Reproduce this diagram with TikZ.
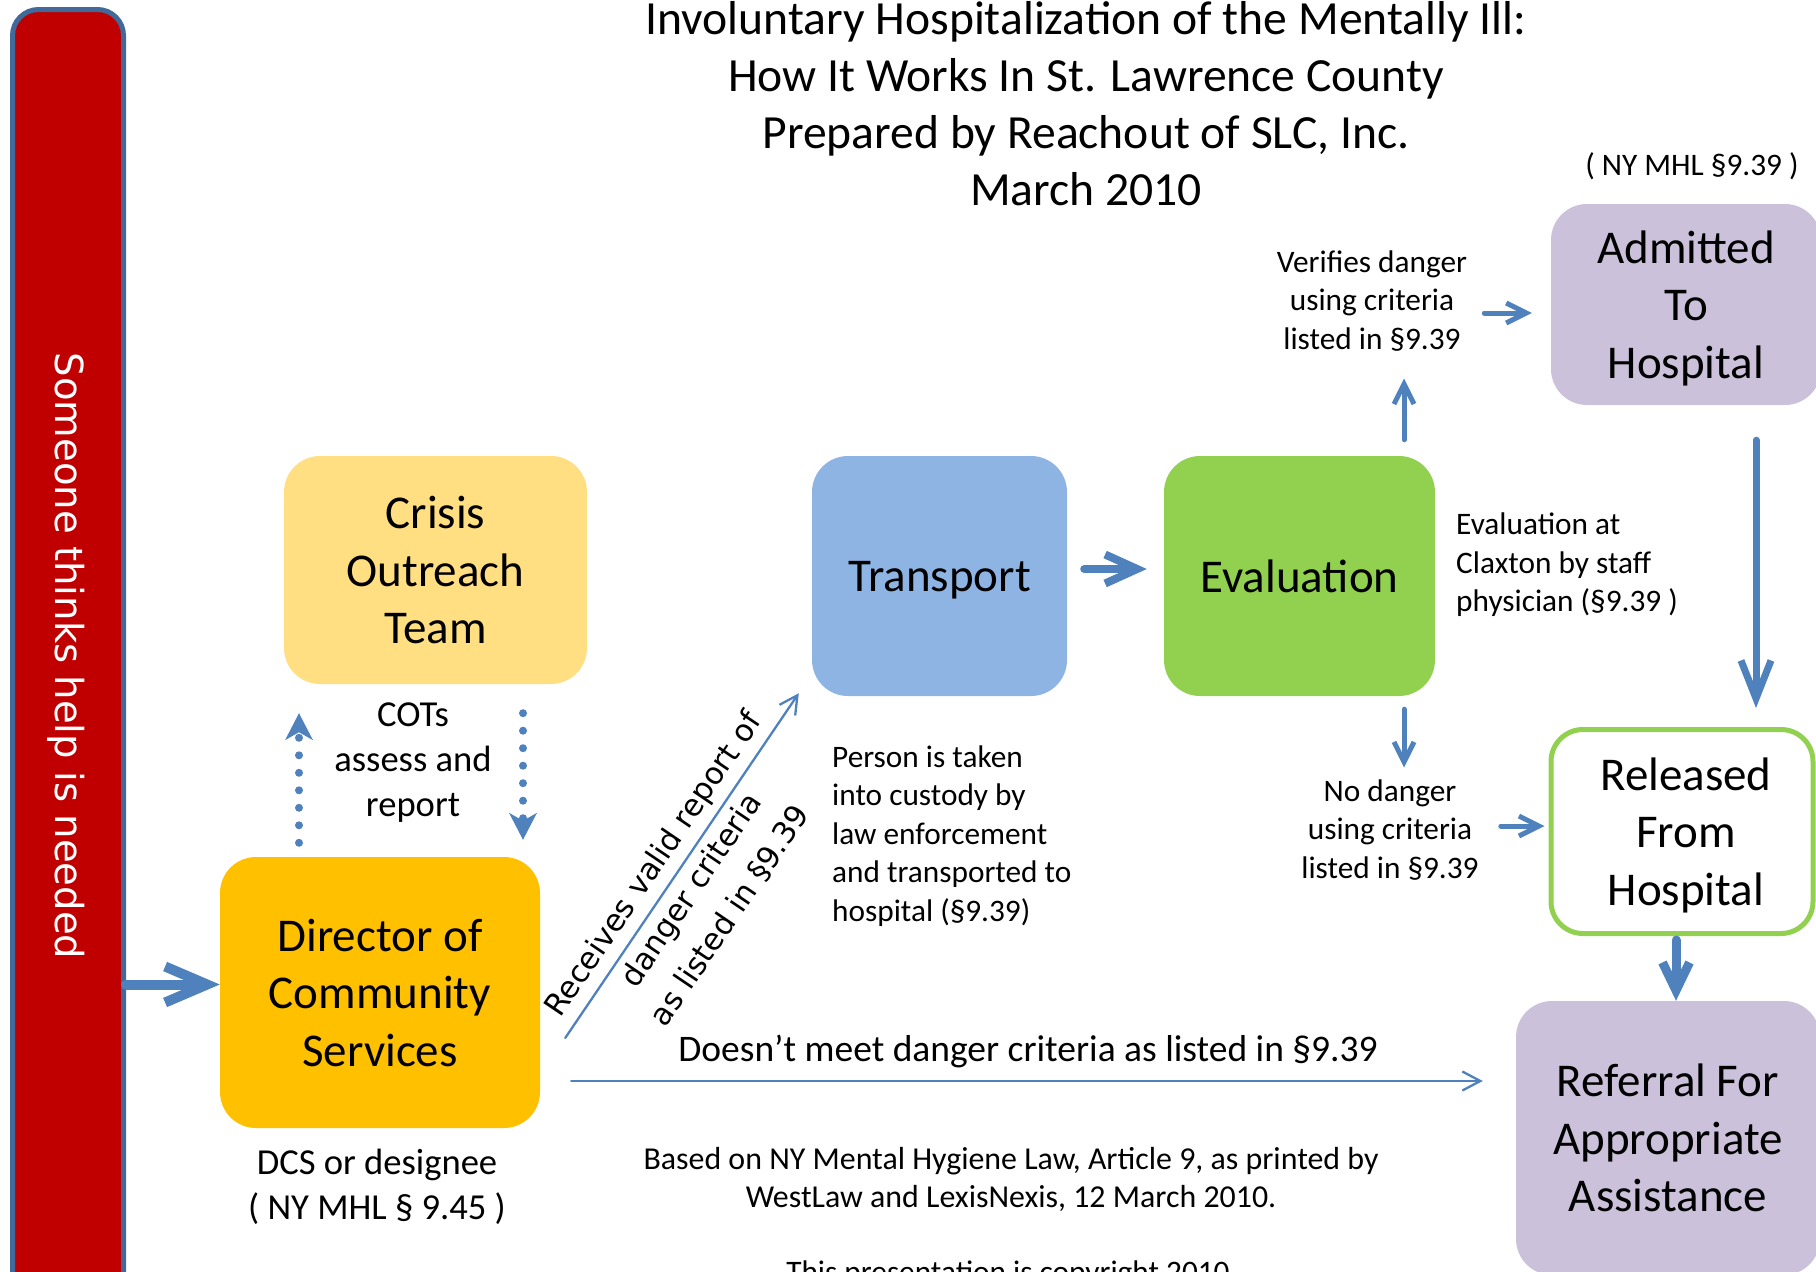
\documentclass[tikz,border=0pt]{standalone}
\usepackage{fontspec}
\setmainfont{Carlito}
\newfontfamily\verdfont{DejaVu Sans}
\usetikzlibrary{arrows.meta}
\definecolor{flowblue}{HTML}{4F81BD}
\definecolor{barred}{HTML}{C00000}
\definecolor{barline}{HTML}{41699A}
\definecolor{cotyellow}{HTML}{FFDF82}
\definecolor{dcsgold}{HTML}{FFC000}
\definecolor{transblue}{HTML}{8EB4E3}
\definecolor{evalgreen}{HTML}{92D050}
\definecolor{hosplilac}{HTML}{CCC1DA}
\newcommand\titlesize{\fontsize{47.6}{57}\selectfont}
\newcommand\boxsize{\fontsize{47}{57.5}\selectfont}
\newcommand\midsize{\fontsize{36.6}{45}\selectfont}
\newcommand\notesize{\fontsize{31.3}{38.5}\selectfont}
\begin{document}
\begin{tikzpicture}[x=1pt,y=-1pt,line join=round,line cap=round]
\tikzset{box/.style={rounded corners=36pt,align=center,font=\boxsize,inner sep=0pt,text depth=0pt},
  note/.style={align=center,font=\notesize,inner sep=0pt},
  barbhead/.style 2 args={-{Straight Barb[length=#1,width=#2]}},
  bigarr/.style={flowblue},
  midarr/.style={flowblue,line width=5pt,barbhead={20pt}{20pt}},
  thinarr/.style={flowblue,line width=2.3pt,barbhead={18pt}{19pt}},
  dotarr/.style={flowblue,line width=8pt,dash pattern=on 0pt off 17.5pt,-{Stealth[length=27pt,width=28pt,inset=8pt,line width=0pt]}}}
\useasboundingbox (0,0) rectangle (1816,1272);
\clip (0,0) rectangle (1816,1272);
\node[draw=barline,fill=barred,line width=5pt,rounded corners=26pt,minimum width=111pt,minimum height=1300pt,inner sep=0pt] (bar) at (68,659.5) {};
\node[rotate=-90,text=white,font=\verdfont\fontsize{38.6}{46}\selectfont,inner sep=0pt] (help) at (66,656) {Someone thinks help is needed};
\node[align=center,font=\titlesize,inner sep=0pt] (title) at (1086,104) {Involuntary Hospitalization of the Mentally Ill:\\How It Works In St. Lawrence County\\Prepared by Reachout of SLC, Inc.\\March 2010};
\node[box,fill=cotyellow,minimum width=303pt,minimum height=228pt] (crisis) at (435.5,570) {Crisis\\Outreach\\Team};
\node[box,fill=dcsgold,minimum width=320pt,minimum height=271pt] (dcs) at (380,992.5) {Director of\\Community\\Services};
\node[box,fill=transblue,minimum width=255pt,minimum height=240pt] (trans) at (939.5,576) {Transport};
\node[box,fill=evalgreen,minimum width=271pt,minimum height=240pt] (eval) at (1299.5,576) {Evaluation};
\node[box,fill=hosplilac,minimum width=270pt,minimum height=201pt] (admit) at (1686,304.5) {Admitted\\To\\Hospital};
\node[box,draw=evalgreen,line width=5pt,rounded corners=32pt,fill=white,minimum width=262pt,minimum height=204pt] (released) at (1682,831.5) {\hspace*{8pt}Released\\\hspace*{8pt}From\\\hspace*{8pt}Hospital};
\node[box,fill=hosplilac,minimum width=304pt,minimum height=274pt] (referral) at (1668,1138) {Referral For\\Appropriate\\Assistance};
\node[note] (mhl) at (1692,166) {( NY MHL §9.39 )};
\node[note] (verify) at (1372,301) {Verifies danger\\using criteria\\listed in §9.39};
\node[note,align=left,anchor=west] (evalnote) at (1456,565) {Evaluation at\\Claxton by staff\\physician (§9.39 )};
\node[note] (nodanger) at (1390,830) {No danger\\using criteria\\listed in §9.39};
\node[note,font=\midsize] (cots) at (413,762.5) {COTs\\assess and\\report};
\node[note,align=left,anchor=west] (custody) at (832,836) {Person is taken\\into custody by\\law enforcement\\and transported to\\hospital (§9.39)};
\node[note,font=\midsize] (dcsnote) at (377,1186.5) {DCS or designee\\( NY MHL § 9.45 )};
\node[note,font=\fontsize{31.9}{38.5}\selectfont] (source) at (1011,1179.5) {Based on NY Mental Hygiene Law, Article 9, as printed by\\WestLaw and LexisNexis, 12 March 2010.};
\node[note] (copyright) at (1008,1274) {This presentation is copyright 2010};
\node[rotate=55.9,align=center,inner sep=0pt,font=\verdfont\fontsize{30.5}{46}\selectfont] (report) at (691.4,890) {Receives valid report of\\danger criteria\\as listed in §9.39};
\draw[bigarr,line width=10pt,barbhead={42pt}{36pt}] ([yshift=8pt]dcs.west -| bar.east) -- ([yshift=8pt]dcs.west);
\draw[bigarr,line width=8pt,barbhead={32pt}{29pt},shorten <=17pt,shorten >=17pt] ([yshift=7pt]trans.east) -- ([yshift=7pt]eval.west);
\draw[midarr,shorten <=16pt,shorten >=27pt] ([xshift=104.5pt]eval.north) -- ([xshift=104.5pt]eval.north |- verify.south);
\draw[midarr,shorten <=17pt,shorten >=19pt] ([yshift=-12pt]verify.east) -- ([yshift=-12pt]verify.east -| admit.west);
\draw[bigarr,line width=7pt,barbhead={38pt}{30pt},shorten <=35pt,shorten >=19pt] ([xshift=70pt]admit.south) -- ([xshift=70pt]admit.south |- released.north);
\draw[midarr,shorten <=13pt,shorten >=12pt] ([xshift=104.5pt]eval.south) -- ([xshift=104.5pt]eval.south |- nodanger.north);
\draw[midarr,shorten <=22pt,shorten >=4pt] ([yshift=4pt]nodanger.east) -- ([yshift=4pt]nodanger.east -| released.west);
\draw[bigarr,line width=9pt,barbhead={28pt}{27pt},shorten <=4pt] ([xshift=-6pt]released.south) -- ([xshift=-6pt]released.south |- referral.north);
\draw[thinarr,shorten <=31pt,shorten >=33pt] ([yshift=-88.5pt]dcs.east) -- ([yshift=-88.5pt]dcs.east -| referral.west)
  node[midway,above=12pt,font=\fontsize{37.5}{45}\selectfont,inner sep=0pt,text=black] (nomeet) {Doesn’t meet danger criteria as listed in §9.39};
\draw[thinarr] ([xshift=25pt,yshift=-45.5pt]dcs.east) -- ([xshift=-13pt,yshift=3pt]trans.south west);
\draw[dotarr,shorten <=14pt,shorten >=29pt] ([xshift=-81pt]dcs.north) -- ([xshift=-81pt]dcs.north |- crisis.south);
\draw[dotarr,shorten <=29pt,shorten >=17pt] ([xshift=87.5pt]crisis.south) -- ([xshift=87.5pt]crisis.south |- dcs.north);
\end{tikzpicture}
\end{document}
